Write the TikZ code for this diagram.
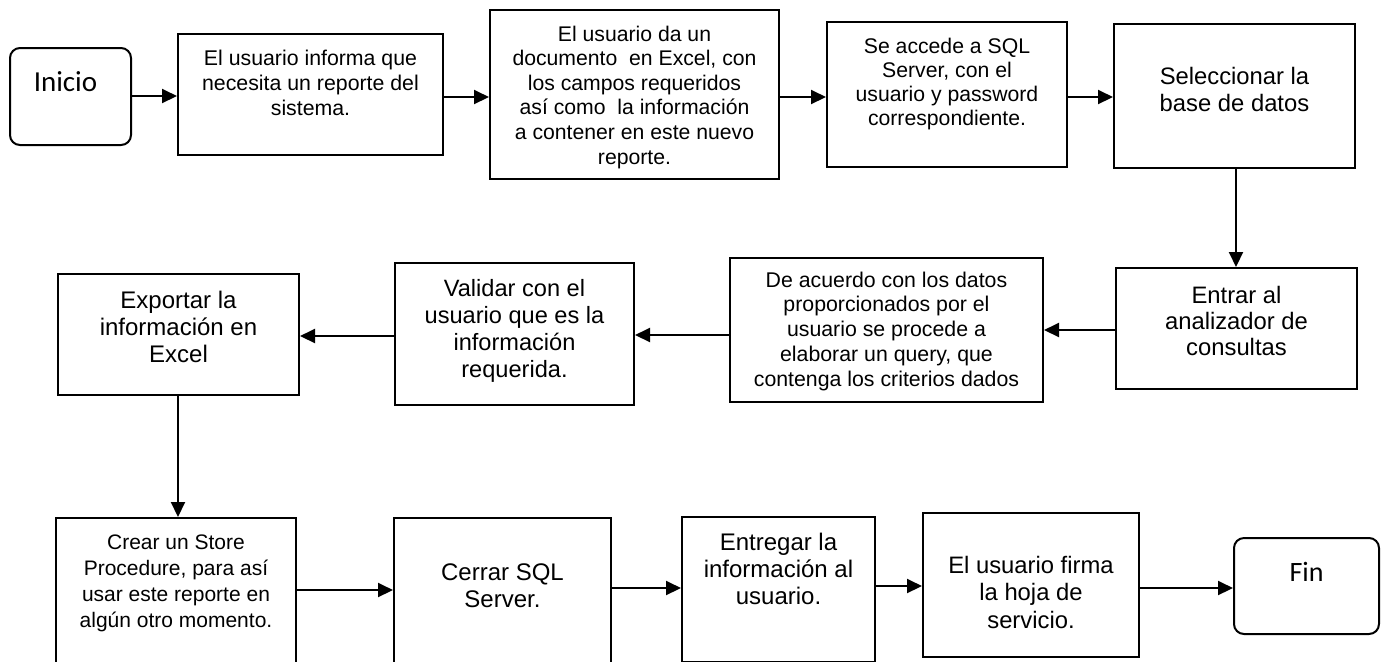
\documentclass[tikz,border=0pt]{standalone}
\usepackage{fontspec}
\setmainfont{Liberation Sans}
\newfontfamily\calib{Carlito}
\usetikzlibrary{arrows.meta}
\newcommand\fs[2]{\fontsize{#1pt}{#2pt}\selectfont}
\newcommand\bt[5]{\parbox[t][#2pt][t]{#1pt}{\centering#4\vspace*{#3pt}\rule{0pt}{9pt}#5}}
\begin{document}
\begin{tikzpicture}[x=0.5pt,y=-0.5pt,
  box/.style={draw=black,line width=1pt,inner sep=0pt,anchor=north west},
  term/.style={box,rounded corners=5pt},
  arr/.style={line width=1pt,-{Triangle[length=7.5pt,width=7pt]}}]
\useasboundingbox (0,0) rectangle (1382,661);
\clip (0,0) rectangle (1382,661);
\node[term] (ini) at (9,47) {\bt{60.5}{48.5}{11.7}{\calib\fontsize{14.5pt}{17pt}\selectfont}{Inicio\hspace*{5pt}}};
\node[box] (b1) at (177,33) {\bt{132.5}{60.5}{6.5}{\fs{10.65}{12.5}}{El usuario informa que\\necesita un reporte del\\sistema.}};
\node[box] (b2) at (489,9) {\bt{144.5}{84.5}{6.5}{\fs{10.6}{12.3}}{El usuario da un\\documento\ \ en Excel, con\\los campos requeridos\\así como\ \ la información\\a contener en este nuevo\\reporte.}};
\node[box] (b3) at (826,21) {\bt{120}{72.5}{6.5}{\fs{10.6}{12}}{Se accede a SQL\\Server, con el\\usuario y password\\correspondiente.}};
\node[box] (b4) at (1113,23) {\bt{120.5}{72}{21}{\fs{11.9}{13.5}}{Seleccionar la\\base de datos}};
\node[box] (b5) at (1115,267) {\bt{120.5}{60.5}{8.5}{\fs{11.9}{13.2}}{Entrar al\\analizador de\\consultas}};
\node[box] (b6) at (729,257) {\bt{156.5}{72}{5.5}{\fs{10.65}{12.4}}{De acuerdo con los datos\\proporcionados por el\\usuario se procede a\\elaborar un query, que\\contenga los criterios dados}};
\node[box] (b7) at (394,262) {\bt{119.5}{71}{7.5}{\fs{11.8}{13.6}}{Validar con el\\usuario que es la\\información\\requerida.}};
\node[box] (b8) at (57,273) {\bt{120.5}{60.5}{8}{\fs{12}{13.5}}{Exportar la\\información en\\Excel}};
\node[box] (b9) at (55,517) {\bt{120}{74}{6.5}{\fs{10.5}{13}}{Crear un Store\\Procedure, para así\\usar este reporte en\\algún otro momento.}};
\node[box] (b10) at (393,517) {\bt{108.5}{74}{22}{\fs{12}{13.5}}{Cerrar SQL\\Server.}};
\node[box] (b11) at (681,516) {\bt{96.5}{72.25}{7.5}{\fs{12}{13.5}}{Entregar la\\información al\\usuario.}};
\node[box] (b12) at (922,512) {\bt{108}{72}{21}{\fs{11.9}{13.8}}{El usuario firma\\la hoja de\\servicio.}};
\node[term] (fin) at (1233,537) {\bt{72.5}{48}{12}{\calib\fontsize{14pt}{17pt}\selectfont}{Fin}};
\draw[arr] (ini.east |- 0,96) -- (b1.west |- 0,96);
\draw[arr] (b1.east |- 0,97) -- (b2.west |- 0,97);
\draw[arr] (b2.east |- 0,97) -- (b3.west |- 0,97);
\draw[arr] (b3.east |- 0,97) -- (b4.west |- 0,97);
\draw[arr] (b4.south -| 1236,0) -- (b5.north -| 1236,0);
\draw[arr] (b5.west |- 0,330) -- (b6.east |- 0,330);
\draw[arr] (b6.west |- 0,335) -- (b7.east |- 0,335);
\draw[arr] (b7.west |- 0,336) -- (b8.east |- 0,336);
\draw[arr] (b8.south -| 178,0) -- (b9.north -| 178,0);
\draw[arr] (b9.east |- 0,590) -- (b10.west |- 0,590);
\draw[arr] (b10.east |- 0,588) -- (b11.west |- 0,588);
\draw[arr] (b11.east |- 0,586) -- (b12.west |- 0,586);
\draw[arr] (b12.east |- 0,588) -- (fin.west |- 0,588);
\end{tikzpicture}
\end{document}
